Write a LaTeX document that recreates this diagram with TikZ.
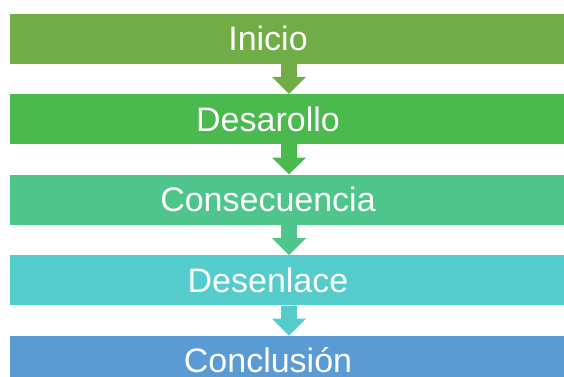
\documentclass[tikz,border=0pt]{standalone}
\usepackage{fontspec}
\setmainfont{Liberation Sans}
\usepackage{tikz}
\usepackage{xcolor}
\usetikzlibrary{arrows.meta}

\definecolor{st0}{HTML}{70AD47}
\definecolor{st1}{HTML}{4ABA4F}
\definecolor{st2}{HTML}{4EC68B}
\definecolor{st3}{HTML}{55CCCC}
\definecolor{st4}{HTML}{5B9BD5}

\begin{document}
\begin{tikzpicture}[x=1pt,y=-1pt,
    stage/.style={rectangle, minimum width=558pt, minimum height=50pt, inner sep=0pt,
      text height=24pt, text depth=0pt, text=white,
      font=\fontsize{34}{40}\selectfont},
    flow/.style={line width=16pt, -{Triangle[width=33pt,length=17pt]}}]
    \clip (0,0) rectangle (564,376);
    \def\n{4}
    \foreach \name [count=\i from 0] in {Inicio,Desarollo,Consecuencia,Desenlace,Conclusión} {
      \node[stage, fill=st\i] (S\i) at (289,{38.5+80.6*\i}) {\name\kern42pt};
    }
    \foreach \i in {0,...,3} {
      \pgfmathparse{int(\i+1)}
      \let\j\pgfmathresult
      \draw[flow, st\i] (S\i.south) -- (S\j.north);
    }
  \end{tikzpicture}
\end{document}
